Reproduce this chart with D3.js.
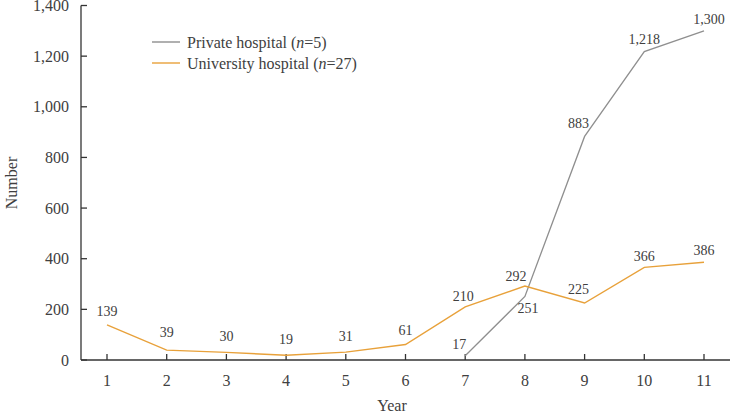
<!DOCTYPE html>
<html>
<head>
<meta charset="utf-8">
<script src="https://cdn.jsdelivr.net/npm/d3@7"></script>
<style>
  body { margin: 0; background: #fff; }
  svg text { font-family: "Liberation Serif", "DejaVu Serif", serif; fill: #404040; }
</style>
</head>
<body>
<script>
const years = [1, 2, 3, 4, 5, 6, 7, 8, 9, 10, 11];
const universityValues = [139, 39, 30, 19, 31, 61, 210, 292, 225, 366, 386];
const privateYears = [7, 8, 9, 10, 11];
const privateValues = [17, 251, 883, 1218, 1300];
const yTicks = [0, 200, 400, 600, 800, 1000, 1200, 1400];

// label nudges (px) so the numbers sit where the original put them
const uniLabelShift = [[0, -9], [0, -13], [0, -11], [0, -11], [0, -11], [0, -10], [-2, -6], [-9, -5], [-6, -9], [0, -6], [0, -7]];
const privLabelShift = [[-6, -7], [3, 17], [-6, -8], [0, -8], [5, -7]];

const width = 730, height = 413;
const svg = d3.select("body").append("svg")
    .attr("width", width)
    .attr("height", height);

const x = d3.scaleLinear().domain([1, 11]).range([107, 704]);
const y = d3.scaleLinear().domain([0, 1400]).range([360, 5.5]);

const fmt = d3.format(",");

// y axis
svg.append("line")
    .attr("x1", 81).attr("x2", 81)
    .attr("y1", y(1400)).attr("y2", y(0))
    .attr("stroke", "#333").attr("stroke-width", 1.3);

const yt = svg.append("g").selectAll("g").data(yTicks).join("g");
yt.append("line")
    .attr("x1", 81).attr("x2", 87)
    .attr("y1", d => y(d)).attr("y2", d => y(d))
    .attr("stroke", "#333").attr("stroke-width", 1.3);
yt.append("text")
    .attr("x", 69).attr("y", d => y(d))
    .attr("dy", "0.35em")
    .attr("text-anchor", "end")
    .style("font-size", "16px")
    .text(d => fmt(d));

// x axis
svg.append("line")
    .attr("x1", 81).attr("x2", 730)
    .attr("y1", y(0)).attr("y2", y(0))
    .attr("stroke", "#333").attr("stroke-width", 1.3);

const xt = svg.append("g").selectAll("g").data(years).join("g");
xt.append("line")
    .attr("x1", d => x(d)).attr("x2", d => x(d))
    .attr("y1", y(0)).attr("y2", y(0) - 6)
    .attr("stroke", "#333").attr("stroke-width", 1.3);
xt.append("text")
    .attr("x", d => x(d)).attr("y", 386)
    .attr("text-anchor", "middle")
    .style("font-size", "16px")
    .text(d => d);

svg.append("text")
    .attr("x", 392).attr("y", 411)
    .attr("text-anchor", "middle")
    .style("font-size", "16px")
    .text("Year");

svg.append("text")
    .attr("transform", "translate(17,183) rotate(-90)")
    .attr("text-anchor", "middle")
    .style("font-size", "16px")
    .text("Number");

// lines
const line = d3.line().x(d => x(d[0])).y(d => y(d[1]));

const privPts = privateYears.map((yr, i) => [yr, privateValues[i]]);
const uniPts = years.map((yr, i) => [yr, universityValues[i]]);

svg.append("path")
    .datum(privPts)
    .attr("d", line)
    .attr("fill", "none")
    .attr("stroke", "#8f8f8f")
    .attr("stroke-width", 1.3);

svg.append("path")
    .datum(uniPts)
    .attr("d", line)
    .attr("fill", "none")
    .attr("stroke", "#e8a13a")
    .attr("stroke-width", 1.4);

// value labels
svg.append("g").selectAll("text").data(uniPts).join("text")
    .attr("x", (d, i) => x(d[0]) + uniLabelShift[i][0])
    .attr("y", (d, i) => y(d[1]) + uniLabelShift[i][1])
    .attr("text-anchor", "middle")
    .style("font-size", "14px")
    .text(d => fmt(d[1]));

svg.append("g").selectAll("text").data(privPts).join("text")
    .attr("x", (d, i) => x(d[0]) + privLabelShift[i][0])
    .attr("y", (d, i) => y(d[1]) + privLabelShift[i][1])
    .attr("text-anchor", "middle")
    .style("font-size", "14px")
    .text(d => fmt(d[1]));

// legend
const legend = [
    {label: "Private hospital (", n: "5", color: "#8f8f8f"},
    {label: "University hospital (", n: "27", color: "#e8a13a"}
];
const lg = svg.append("g").selectAll("g").data(legend).join("g")
    .attr("transform", (d, i) => `translate(152,${42 + i * 21})`);
lg.append("line")
    .attr("x1", 0).attr("x2", 28)
    .attr("stroke", d => d.color).attr("stroke-width", 1.4);
const lt = lg.append("text")
    .attr("x", 35).attr("dy", "0.35em")
    .style("font-size", "16px");
lt.append("tspan").text(d => d.label);
lt.append("tspan").style("font-style", "italic").text("n");
lt.append("tspan").text(d => "=" + d.n + ")");
</script>
</body>
</html>
